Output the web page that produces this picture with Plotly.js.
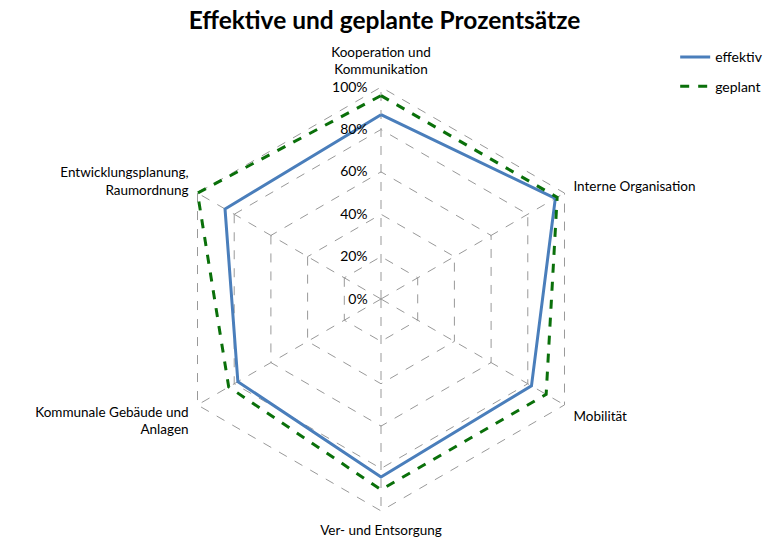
<!DOCTYPE html>
<html>
<head>
<meta charset="utf-8">
<script src="https://cdn.plot.ly/plotly-3.0.1.min.js"></script>
<style>html,body{margin:0;padding:0;background:#fff;}#chart{width:769px;height:552px;}</style>
</head>
<body>
<div id="chart"></div>
<script>
var categories = [
  "Kooperation und<br>Kommunikation",
  "Interne Organisation",
  "Mobilität",
  "Ver- und Entsorgung",
  "Kommunale Gebäude und<br>Anlagen",
  "Entwicklungsplanung,<br>Raumordnung"
];
var effektiv = [87, 95, 82, 84, 78, 85];
var geplant = [96, 96, 90, 90, 83, 100];
var radialTicks = [0, 20, 40, 60, 80, 100];

function closed(arr) { return arr.concat([arr[0]]); }

var traces = [
  {
    type: "scatterpolar", mode: "lines", name: "effektiv", legendgroup: "a",
    r: closed(effektiv), theta: closed(categories),
    line: {color: "#4A7EBB", width: 3}
  },
  {
    type: "scatterpolar", mode: "lines", name: "geplant", legendgroup: "b",
    r: closed(geplant), theta: closed(categories),
    line: {color: "#0A700A", width: 3, dash: "dash"}
  }
];

var font = {family: "Lato, 'Open Sans', sans-serif", size: 13.5, color: "#000"};
var layout = {
  width: 769, height: 552,
  margin: {l: 0, r: 0, t: 0, b: 0},
  paper_bgcolor: "#fff",
  font: font,
  title: {
    text: "<b>Effektive und geplante Prozentsätze</b>",
    x: 0.5, xanchor: "center", y: 0.963, yanchor: "middle",
    font: {family: "Lato, 'Open Sans', sans-serif", size: 24.5, color: "#000"}
  },
  showlegend: true,
  legend: {x: 0.878, y: 0.925, xanchor: "left", yanchor: "top", font: {family: font.family, size: 14, color: "#000"}, bgcolor: "rgba(0,0,0,0)", tracegroupgap: 8},
  polar: {
    domain: {x: [(381 - 214) / 769, (381 + 214) / 769], y: [(253 - 214) / 552, (253 + 214) / 552]},
    gridshape: "linear",
    bgcolor: "#fff",
    radialaxis: {
      range: [0, 101], tickvals: radialTicks, ticktext: radialTicks.map(function(v){return v + "%";}),
      angle: 90, tickangle: 90, side: "counterclockwise",
      showline: false, ticks: "outside", ticklen: 8, tickcolor: "rgba(0,0,0,0)",
      gridcolor: "#999", griddash: "dash", gridwidth: 1,
      tickfont: {family: font.family, size: 14, color: "#000"}
    },
    angularaxis: {
      rotation: 90, direction: "clockwise",
      showline: false, ticks: "outside", ticklen: 5, tickcolor: "rgba(0,0,0,0)",
      gridcolor: "#999", griddash: "dash", gridwidth: 1,
      tickfont: font
    }
  }
};
Plotly.newPlot("chart", traces, layout, {displayModeBar: false});
</script>
</body>
</html>
